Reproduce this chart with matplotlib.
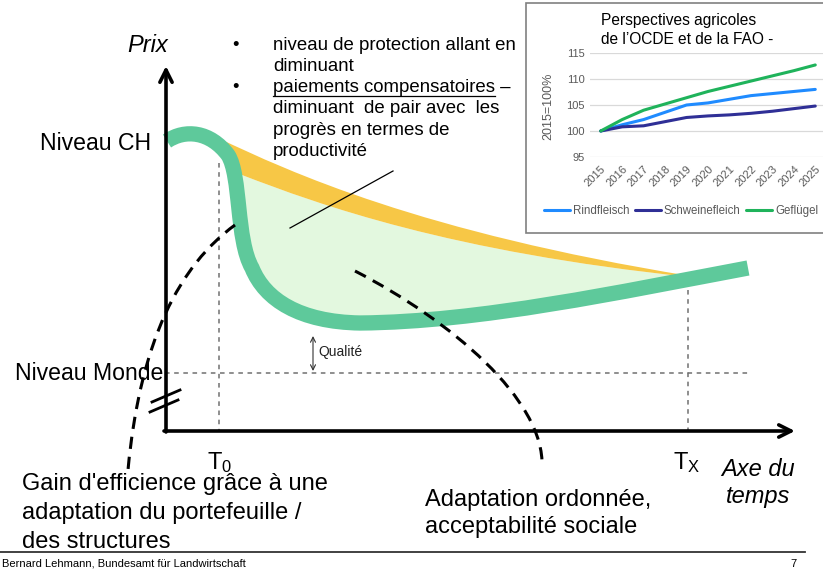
import matplotlib
matplotlib.use('Agg')
import matplotlib.pyplot as plt
from matplotlib.path import Path
from matplotlib.patches import PathPatch, Rectangle
from matplotlib.lines import Line2D

plt.rcParams['font.family'] = ['Liberation Sans', 'DejaVu Sans']
plt.rcParams['mathtext.fontset'] = 'custom'
plt.rcParams['mathtext.rm'] = 'Liberation Sans'
plt.rcParams['mathtext.it'] = 'Liberation Sans:italic'

# ---------------- inset data (OECD-FAO outlook, 2015 = 100%) ----------------
years = ['2015', '2016', '2017', '2018', '2019', '2020', '2021', '2022', '2023', '2024', '2025']
rindfleisch = [100, 101.2, 102.2, 103.6, 105.0, 105.4, 106.1, 106.8, 107.2, 107.6, 108.0]
schweinefleich = [100, 100.8, 101.0, 101.8, 102.6, 102.9, 103.1, 103.4, 103.8, 104.3, 104.8]
gefluegel = [100, 102.2, 104.0, 105.2, 106.4, 107.6, 108.6, 109.6, 110.6, 111.6, 112.7]
series_names = ['Rindfleisch', 'Schweinefleich', 'Geflügel']
series_colors = ['#1f8bff', '#2f2f96', '#1fb35b']
inset_yticks = [95, 100, 105, 110, 115]
inset_title = ['Perspectives agricoles', "de l\u2019OCDE et de la FAO -"]
inset_ylabel = '2015=100%'

# ---------------- diagram texts ----------------
bullet_lines = ['niveau de protection allant en', 'diminuant',
                'paiements compensatoires \u2013', 'diminuant  de pair avec  les',
                'progrès en termes de', 'productivité']
bullet_starts = [0, 2]
left_note = ["Gain d'efficience grâce à une", 'adaptation du portefeuille /', 'des structures']
right_note = ['Adaptation ordonnée,', 'acceptabilité sociale']
footer = 'Bernard Lehmann, Bundesamt für Landwirtschaft'

# ---------------- diagram shapes (canvas pixel space) ----------------
green_curve = [(167, 141), (185, 129), (210, 131), (228, 155),
               (241, 175), (236, 240), (252, 268),
               (265, 300), (300, 322), (360, 323),
               (480, 322), (620, 292), (748, 268)]
orange_upper = [(218, 138), (290, 172), (420, 232), (690, 276)]
orange_lower = [(242, 175), (320, 205), (450, 252), (690, 277)]
dash_left = [(235, 225), (180, 265), (140, 340), (128, 470)]
dash_right = [(355, 271), (450, 320), (545, 400), (542, 467)]

fig = plt.figure(figsize=(8.23, 5.71), dpi=100)
ax = fig.add_axes([0, 0, 1, 1])
ax.set_xlim(0, 823)
ax.set_ylim(571, 0)
ax.axis('off')

M, C4, L, CL = Path.MOVETO, Path.CURVE4, Path.LINETO, Path.CLOSEPOLY
green_codes = [M] + [C4] * (len(green_curve) - 1)
green_path = Path(green_curve, green_codes)

# region above the green curve, used as clip
above_verts = green_curve + [(748, 0), (167, 0), green_curve[0]]
above_codes = green_codes + [L, L, CL]
above_path = Path(above_verts, above_codes)
clip_patch = PathPatch(above_path, transform=ax.transData, facecolor='none', edgecolor='none')

# light green area
lg_verts = orange_lower + [(690, 400), (230, 400), orange_lower[0]]
lg_codes = [M, C4, C4, C4, L, L, CL]
lg = PathPatch(Path(lg_verts, lg_codes), facecolor='#e3f8df', edgecolor='none', zorder=1)
ax.add_patch(lg)
lg.set_clip_path(clip_patch)

# orange band
rev_lower = orange_lower[::-1]
or_verts = orange_upper + [rev_lower[0]] + rev_lower[1:] + [(222, 165), orange_upper[0]]
or_codes = [M, C4, C4, C4, L, C4, C4, C4, L, CL]
orp = PathPatch(Path(or_verts, or_codes), facecolor='#f7c746', edgecolor='none', zorder=1.5)
ax.add_patch(orp)
orp.set_clip_path(clip_patch)

# dotted guide lines
guide = dict(color='#707070', lw=1.1, ls=(0, (3, 3)), zorder=2)
ax.plot([219, 219], [163, 431], **guide)
ax.plot([688, 688], [290, 431], **guide)
ax.plot([165, 748], [373, 373], **guide)

# axes with arrows
ax.annotate('', xy=(166, 66), xytext=(166, 432),
            arrowprops=dict(arrowstyle='->', lw=2.6, color='black', mutation_scale=22,
                            shrinkA=0, shrinkB=0), zorder=6)
ax.annotate('', xy=(795, 431), xytext=(164, 431),
            arrowprops=dict(arrowstyle='->', lw=2.6, color='black', mutation_scale=22,
                            shrinkA=0, shrinkB=0), zorder=6)
# axis break marks
ax.plot([152, 180], [402, 390], color='black', lw=2.0, zorder=6)
ax.plot([150, 178], [412, 400], color='black', lw=2.0, zorder=6)

# green curve
ax.add_patch(PathPatch(green_path, facecolor='none', edgecolor='#5ec99b', lw=11,
                       capstyle='butt', joinstyle='round', zorder=4))

# dashed curves
for pts in (dash_left, dash_right):
    ax.add_patch(PathPatch(Path(pts, [M, C4, C4, C4]), facecolor='none', edgecolor='black',
                           lw=2.2, linestyle=(0, (4, 2.6)), zorder=5))

# leader line
ax.plot([290, 393], [228, 171], color='black', lw=0.9, zorder=5)

# Qualité arrow
ax.annotate('', xy=(313, 336), xytext=(313, 371),
            arrowprops=dict(arrowstyle='<->', lw=0.8, color='#333333', mutation_scale=9,
                            shrinkA=0, shrinkB=0), zorder=5)
ax.text(318, 352, 'Qualité', fontsize=10, va='center', ha='left', color='#222222')

# axis labels
ax.text(148, 46, 'Prix', fontsize=17, style='italic', ha='center', va='center')
ax.text(40, 143, 'Niveau CH', fontsize=16.6, ha='left', va='center')
ax.text(15, 373, 'Niveau Monde', fontsize=16.6, ha='left', va='center', zorder=7)
ax.text(207, 463, r'$\mathregular{T_0}$', fontsize=17, ha='left', va='center')
ax.text(673, 463, r'$\mathregular{T_X}$', fontsize=17, ha='left', va='center')
ax.text(758, 470, 'Axe du', fontsize=17, style='italic', ha='center', va='center')
ax.text(758, 497, 'temps', fontsize=17, style='italic', ha='center', va='center')

# notes
for i, s in enumerate(left_note):
    ax.text(22, 484 + 29 * i, s, fontsize=17, ha='left', va='center')
for i, s in enumerate(right_note):
    ax.text(425, 500 + 27 * i, s, fontsize=17, ha='left', va='center')

# bullets
btexts = []
for i, s in enumerate(bullet_lines):
    y = 45 + 21.3 * i
    t = ax.text(273, y, s, fontsize=13.4, ha='left', va='center')
    btexts.append(t)
    if i in bullet_starts:
        ax.text(232, y, '\u2022', fontsize=13.4, ha='left', va='center')
# underline for "paiements compensatoires"
tmp = ax.text(273, 45 + 21.3 * 2, 'paiements compensatoires', fontsize=13.4,
              ha='left', va='center', alpha=0)
fig.canvas.draw()
bb = tmp.get_window_extent().transformed(ax.transData.inverted())
ax.plot([bb.x0, bb.x1], [96, 96], color='black', lw=0.9)

# footer
ax.plot([0, 805], [552, 552], color='#333333', lw=1.3)
ax.text(2, 563, footer, fontsize=8, ha='left', va='center')
ax.text(790, 564, '7', fontsize=8, ha='left', va='center')

# inset frame and title
ax.add_patch(Rectangle((526, 3), 400, 230, facecolor='white', edgecolor='#808080', lw=1.2, zorder=8))
ax.text(601, 20, inset_title[0], fontsize=11.2, ha='left', va='center', zorder=9)
ax.text(601, 40, inset_title[1], fontsize=11.2, ha='left', va='center', zorder=9)
ax.text(548, 106, inset_ylabel, fontsize=9, rotation=90, ha='center', va='center',
        color='#595959', zorder=9)

# inset chart
ax2 = fig.add_axes([590 / 823, (571 - 157) / 571, 236 / 823, 104 / 571])
ax2.patch.set_alpha(0)
xs = list(range(len(years)))
for vals, name, col in zip([rindfleisch, schweinefleich, gefluegel], series_names, series_colors):
    ax2.plot(xs, vals, color=col, lw=2.2, label=name, solid_capstyle='round')
ax2.set_xlim(-0.5, 10.5)
ax2.set_ylim(95, 115)
ax2.set_yticks(inset_yticks)
ax2.set_xticks(xs)
ax2.set_xticklabels(years, rotation=45, ha='right', rotation_mode='anchor')
ax2.tick_params(length=0, labelsize=8, labelcolor='#595959', pad=4)
ax2.tick_params(axis='x', pad=5)
ax2.grid(axis='y', color='#d9d9d9', lw=0.9)
ax2.set_axisbelow(True)
for sp in ax2.spines.values():
    sp.set_visible(False)
ax2.legend(ncol=3, loc='center left', bbox_to_anchor=(544 / 823, (571 - 211) / 571),
           bbox_transform=fig.transFigure, frameon=False, fontsize=8.3,
           handlelength=2.25, handletextpad=0.25, columnspacing=0.5,
           borderpad=0, borderaxespad=0, labelcolor='#595959')

fig.savefig('out.png', dpi=100)
